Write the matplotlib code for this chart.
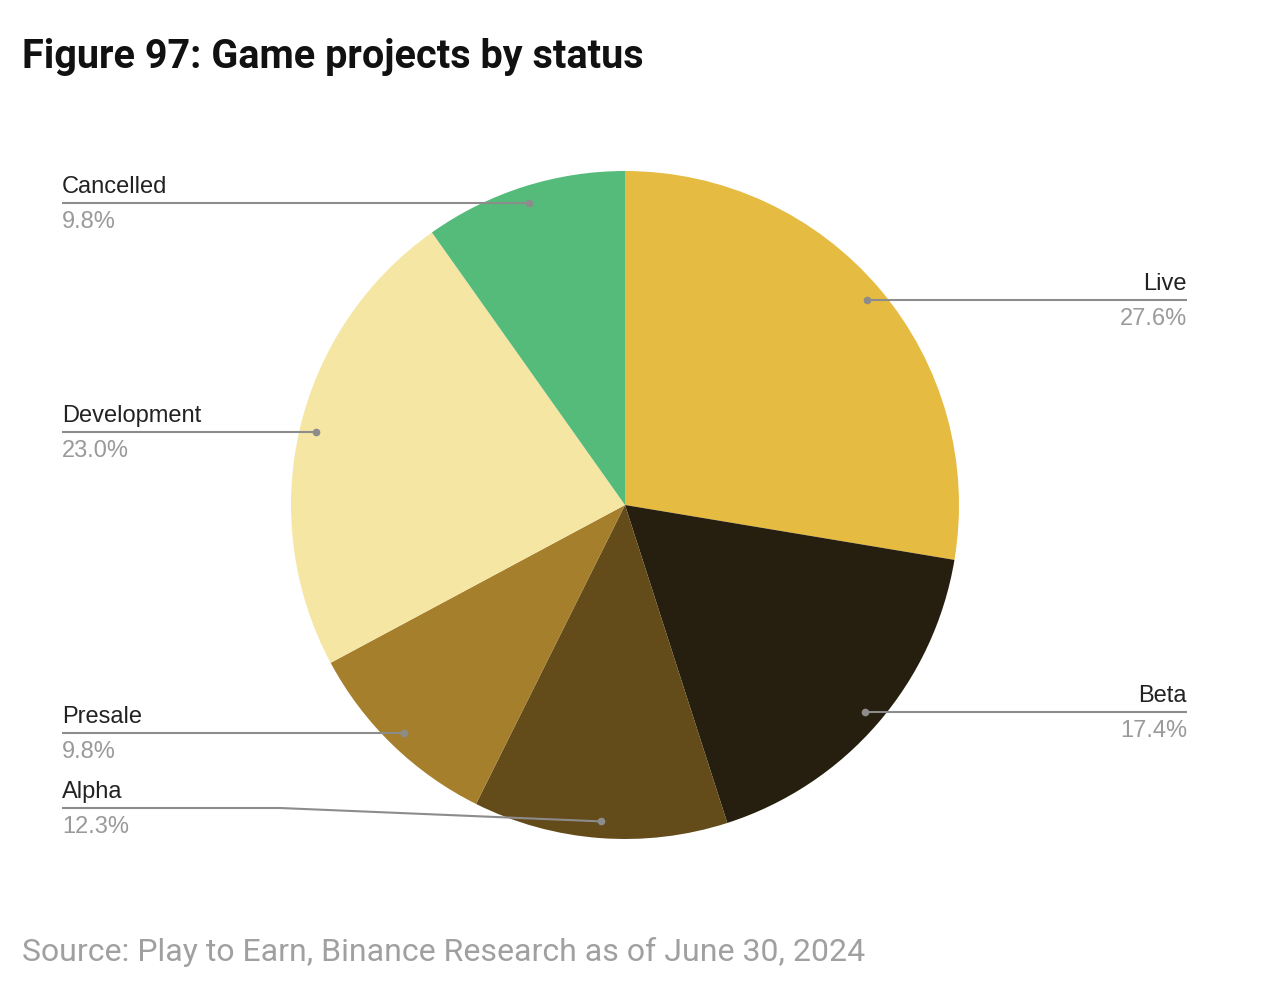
import numpy as np
import matplotlib
matplotlib.use("Agg")
import matplotlib.pyplot as plt

labels = ["Live", "Beta", "Alpha", "Presale", "Development", "Cancelled"]
shares = [27.6, 17.4, 12.3, 9.8, 23.0, 9.8]
colors = ["#E6BB42", "#261E0E", "#634B1A", "#A67F2C", "#F5E6A4", "#55BB7A"]

W, H = 1280, 1000
fig = plt.figure(figsize=(W / 100, H / 100), dpi=100)
ax = fig.add_axes([0, 0, 1, 1])

# work in pixel units, y measured upward
cx, cy, R = 625, H - 505, 334
wedges, _ = ax.pie(shares, colors=colors, startangle=90, counterclock=False,
                   center=(cx, cy), radius=R, frame=True,
                   wedgeprops=dict(linewidth=0))
ax.set_xlim(0, W)
ax.set_ylim(0, H)
ax.set_aspect("equal")
ax.axis("off")

line_c = "#8c8c8c"
name_c = "#222222"
pct_c = "#9a9a9a"
fs = 17
left_x, right_x = 62, 1187
# Alpha label is pushed down to avoid Presale
label_y_override = {"Alpha": H - 808}

for w, name, val in zip(wedges, labels, shares):
    mid = np.deg2rad((w.theta1 + w.theta2) / 2)
    dx, dy = cx + 0.95 * R * np.cos(mid), cy + 0.95 * R * np.sin(mid)
    ly = label_y_override.get(name, dy)
    if dx > cx:
        xs, ys = [dx, right_x], [dy, ly]
        tx, ha = right_x, "right"
    else:
        if ly != dy:
            xs, ys = [left_x, 280, dx], [ly, ly, dy]
        else:
            xs, ys = [left_x, dx], [ly, dy]
        tx, ha = left_x, "left"
    ax.plot(xs, ys, color=line_c, lw=1.5, solid_capstyle="butt", zorder=3)
    ax.plot([dx], [dy], "o", color=line_c, ms=4.5, zorder=4)
    ax.text(tx, ly + 5, name, ha=ha, va="bottom", fontsize=fs,
            family="Liberation Sans", color=name_c)
    ax.text(tx, ly - 8, f"{val:.1f}%", ha=ha, va="top", fontsize=fs,
            family="Liberation Sans", color=pct_c)

fig.text(22 / W, 1 - 57 / H, "Figure 97: Game projects by status", ha="left",
         va="center", fontsize=28.5, fontweight="bold", family="Roboto",
         color="#111111")
fig.text(22 / W, 1 - 952 / H, "Source: Play to Earn, Binance Research as of June 30, 2024",
         ha="left", va="center", fontsize=23, family="Roboto", color="#a0a0a0")

fig.savefig("out.png", dpi=100, facecolor="white")
